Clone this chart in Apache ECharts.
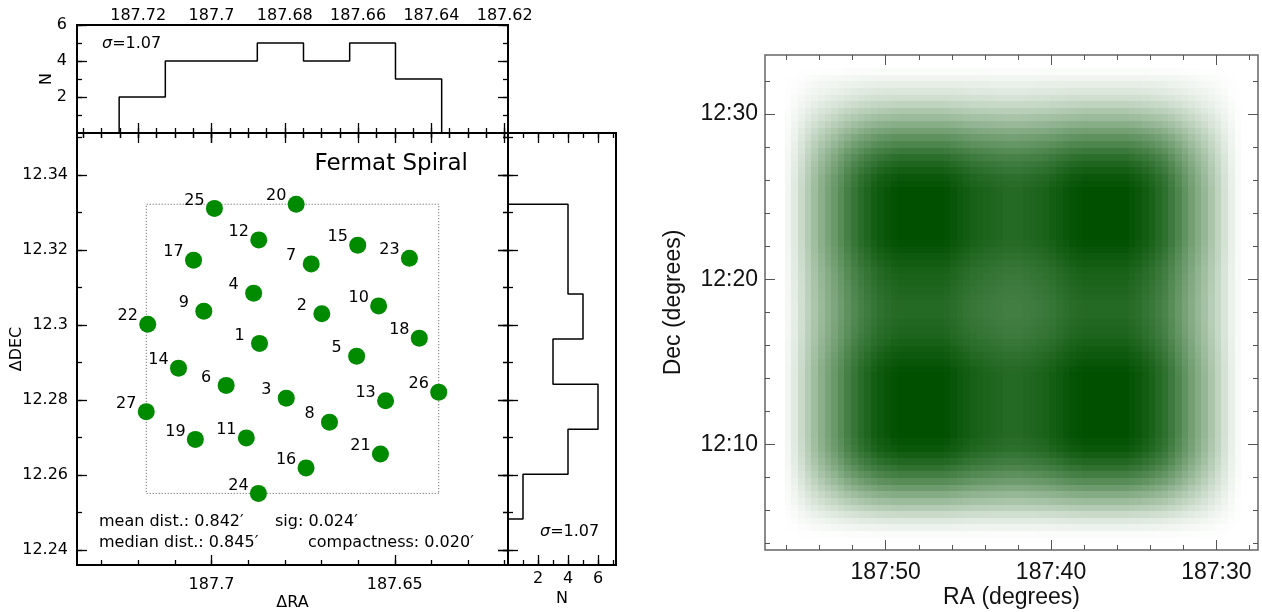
<!DOCTYPE html>
<html><head><meta charset="utf-8">
<script src="https://cdn.jsdelivr.net/npm/echarts@6/dist/echarts.min.js"></script>
<style>html,body{margin:0;padding:0;background:#fff}#c{width:1262px;height:612px}</style>
</head><body><div id="c"></div>
<script>
// ================= DATA =================
const pointIds  = [1,2,3,4,5,6,7,8,9,10,11,12,13,14,15,16,17,18,19,20,21,22,23,24,25,26,27];
const pointRA   = [187.6869,187.6699,187.6796,187.6885,187.6604,187.6960,187.6728,187.6678,187.7021,187.6544,
                   187.6905,187.6871,187.6525,187.7090,187.6601,187.6742,187.7049,187.6433,187.7044,187.6769,
                   187.6539,187.7174,187.6460,187.6872,187.6992,187.6380,187.7178];
const pointDec  = [12.2951,12.3030,12.2805,12.3085,12.2917,12.2839,12.3163,12.2741,12.3037,12.3051,
                   12.2699,12.3227,12.2798,12.2885,12.3213,12.2619,12.3173,12.2965,12.2695,12.3322,
                   12.2656,12.3002,12.3178,12.2551,12.3311,12.2821,12.2769];

const raHistEdges   = [187.7252,187.7126,187.7001,187.6875,187.6749,187.6623,187.6498,187.6372];
const raHistCounts  = [2,4,4,5,4,5,3];
const decHistEdges  = [12.3322,12.3202,12.3083,12.2963,12.2842,12.2722,12.2602,12.2483];
const decHistCounts = [4,4,5,3,6,4,1];

const raTopLabels   = [187.72,187.70,187.68,187.66,187.64,187.62];
const raMainLabels  = [187.70,187.65];
const decMainLabels = [12.24,12.26,12.28,12.30,12.32,12.34];
const nLabels       = [2,4,6];

const titleText  = 'Fermat Spiral';
const sigmaText  = '1.07';
const statsMean  = 'mean dist.: 0.842\u2032';
const statsSig   = 'sig: 0.024\u2032';
const statsMed   = 'median dist.: 0.845\u2032';
const statsComp  = 'compactness: 0.020\u2032';

// heat map (coverage) — RA / Dec profiles read across the image (0.4' cells)
const heatRALabels  = [187 + 50/60, 187 + 40/60, 187 + 30/60];
const heatDecLabels = [12 + 30/60, 12 + 20/60, 12 + 10/60];
const HEAT_RA_LEFT = 187.955, HEAT_DEC_TOP = 12.5595, HEAT_CELL = 0.4/60;
const heatRAProfile = [0,0,0,0.05,0.12,0.21,0.30,0.38,0.46,0.53,0.59,0.66,0.73,0.79,0.84,0.88,0.92,0.95,0.97,0.99,
  1,1,1,1,1,1,1,0.99,0.97,0.95,0.93,0.91,0.90,0.89,0.88,0.87,0.86,0.86,0.86,0.87,0.88,0.89,0.90,0.92,0.94,0.96,0.98,0.99,
  1,1,1,1,1,1,1,0.98,0.96,0.93,0.90,0.86,0.82,0.76,0.69,0.62,0.55,0.48,0.41,0.33,0.25,0.17,0.09,0.03,0,0,0];
const heatDecProfile = [0,0,0.02,0.06,0.10,0.14,0.19,0.25,0.32,0.39,0.47,0.55,0.63,0.70,0.77,0.83,0.88,0.92,0.96,0.98,
  1,1,1,1,1,1,1,1,0.99,0.97,0.95,0.93,0.91,0.90,0.89,0.88,0.87,0.86,0.86,0.86,0.87,0.88,0.89,0.91,0.93,0.95,0.97,0.99,
  1,1,1,1,1,1,1,1,1,1,0.98,0.96,0.92,0.87,0.81,0.74,0.66,0.57,0.48,0.39,0.30,0.21,0.13,0.07,0.02,0,0];

// ================= HELPERS =================
function steps(a, b, s) { const o = []; const n = Math.round((b - a) / s); for (let k = 0; k <= n; k++) o.push(+(a + k * s).toFixed(7)); return o; }
const fmtNum = v => String(parseFloat((+v).toFixed(3)));
const fmtSex = v => { const d = Math.floor(v + 1e-9); const m = Math.round((v - d) * 60); return d + ':' + String(m).padStart(2, '0'); };
const LF = 'DejaVu Sans', HF = 'Liberation Sans';

function axis(o) {
  const a = {
    type: 'value', gridIndex: o.grid, position: o.pos, min: o.min, max: o.max, inverse: !!o.inverse,
    axisLine: {show: false}, splitLine: {show: false},
    axisTick: {show: true, inside: true, length: o.len, customValues: o.ticks,
               lineStyle: {color: o.tc || '#000', width: o.tw || 1.3}},
    axisLabel: {show: false}
  };
  if (o.labels) a.axisLabel = {show: true, customValues: o.labels, margin: o.margin, formatter: o.fmt,
    fontFamily: o.font || LF, fontSize: o.fs || 16, color: o.lc || '#000', hideOverlap: false};
  if (o.name) { a.name = o.name; a.nameLocation = 'middle'; a.nameGap = o.nameGap; a.nameRotate = o.nameRotate || 0;
    a.nameMoveOverlap = false;
    a.nameTextStyle = {fontFamily: o.font || LF, fontSize: o.fs || 16, color: o.lc || '#000'}; }
  return a;
}

const RA_MIN = 187.6191, RA_MAX = 187.7367, DEC_MIN = 12.2360, DEC_MAX = 12.3512;
const raTopMinor = steps(187.62, 187.735, 0.005);
const raMainMinor = steps(187.62, 187.73, 0.01);
const decMinor = steps(12.24, 12.35, 0.01);
const nMinorTop = [1,2,3,4,5,6];
const nMinorRight = [1,2,3,4,5,6,7];
const heatRAMinor = steps(187 + 28/60, 187 + 56/60, 2/60);
const heatDecMinor = steps(12 + 4/60, 12 + 32/60, 2/60);
const HX = {min: 187.4580, max: 187.955}, HY = {min: 12.0603, max: 12.5595};

const xAxes = [
  axis({grid:0,pos:'top',min:RA_MIN,max:RA_MAX,inverse:true,len:10,ticks:raTopLabels,labels:raTopLabels,margin:1,fmt:fmtNum}),
  axis({grid:0,pos:'top',min:RA_MIN,max:RA_MAX,inverse:true,len:5,ticks:raTopMinor}),
  axis({grid:0,pos:'bottom',min:RA_MIN,max:RA_MAX,inverse:true,len:10,ticks:raTopLabels}),
  axis({grid:0,pos:'bottom',min:RA_MIN,max:RA_MAX,inverse:true,len:5,ticks:raTopMinor}),
  axis({grid:1,pos:'bottom',min:RA_MIN,max:RA_MAX,inverse:true,len:10,ticks:raMainLabels,labels:raMainLabels,margin:12,fmt:fmtNum,name:'\u0394RA',nameGap:30}),
  axis({grid:1,pos:'bottom',min:RA_MIN,max:RA_MAX,inverse:true,len:5,ticks:raMainMinor}),
  axis({grid:1,pos:'top',min:RA_MIN,max:RA_MAX,inverse:true,len:5,ticks:raTopMinor}),
  axis({grid:1,pos:'top',min:RA_MIN,max:RA_MAX,inverse:true,len:10,ticks:raMainLabels}),
  axis({grid:2,pos:'bottom',min:0,max:7.2,len:10,ticks:nLabels,labels:nLabels,margin:6,fmt:fmtNum,name:'N',nameGap:26}),
  axis({grid:2,pos:'bottom',min:0,max:7.2,len:5,ticks:nMinorRight}),
  axis({grid:2,pos:'top',min:0,max:7.2,len:10,ticks:nLabels}),
  axis({grid:2,pos:'top',min:0,max:7.2,len:5,ticks:nMinorRight}),
  axis({grid:3,pos:'bottom',min:HX.min,max:HX.max,inverse:true,len:10,ticks:heatRALabels,labels:heatRALabels,margin:11,fmt:fmtSex,font:HF,fs:23,lc:'#111',tc:'#555',tw:1,name:'RA (degrees)',nameGap:36}),
  axis({grid:3,pos:'bottom',min:HX.min,max:HX.max,inverse:true,len:5,ticks:heatRAMinor,tc:'#555',tw:1}),
  axis({grid:3,pos:'top',min:HX.min,max:HX.max,inverse:true,len:10,ticks:heatRALabels,tc:'#555',tw:1}),
  axis({grid:3,pos:'top',min:HX.min,max:HX.max,inverse:true,len:5,ticks:heatRAMinor,tc:'#555',tw:1})
];
const yAxes = [
  axis({grid:0,pos:'left',min:0,max:6,len:10,ticks:nLabels,labels:nLabels,margin:10,fmt:fmtNum,name:'N',nameGap:22,nameRotate:90}),
  axis({grid:0,pos:'left',min:0,max:6,len:5,ticks:nMinorTop}),
  axis({grid:0,pos:'right',min:0,max:6,len:10,ticks:nLabels}),
  axis({grid:0,pos:'right',min:0,max:6,len:5,ticks:nMinorTop}),
  axis({grid:1,pos:'left',min:DEC_MIN,max:DEC_MAX,len:10,ticks:decMainLabels,labels:decMainLabels,margin:9,fmt:fmtNum,name:'\u0394DEC',nameGap:52,nameRotate:90}),
  axis({grid:1,pos:'left',min:DEC_MIN,max:DEC_MAX,len:5,ticks:decMinor}),
  axis({grid:1,pos:'right',min:DEC_MIN,max:DEC_MAX,len:10,ticks:decMainLabels}),
  axis({grid:1,pos:'right',min:DEC_MIN,max:DEC_MAX,len:5,ticks:decMinor}),
  axis({grid:2,pos:'left',min:DEC_MIN,max:DEC_MAX,len:10,ticks:decMainLabels}),
  axis({grid:2,pos:'left',min:DEC_MIN,max:DEC_MAX,len:5,ticks:decMinor}),
  axis({grid:2,pos:'right',min:DEC_MIN,max:DEC_MAX,len:10,ticks:decMainLabels}),
  axis({grid:2,pos:'right',min:DEC_MIN,max:DEC_MAX,len:5,ticks:decMinor}),
  axis({grid:3,pos:'left',min:HY.min,max:HY.max,len:10,ticks:heatDecLabels,labels:heatDecLabels,margin:7,fmt:fmtSex,font:HF,fs:23,lc:'#111',tc:'#555',tw:1,name:'Dec (degrees)',nameGap:80,nameRotate:90}),
  axis({grid:3,pos:'left',min:HY.min,max:HY.max,len:5,ticks:heatDecMinor,tc:'#555',tw:1}),
  axis({grid:3,pos:'right',min:HY.min,max:HY.max,len:10,ticks:heatDecLabels,tc:'#555',tw:1}),
  axis({grid:3,pos:'right',min:HY.min,max:HY.max,len:5,ticks:heatDecMinor,tc:'#555',tw:1})
];

// histogram outlines built from edges + counts
const topHist = [[raHistEdges[0], 0]];
raHistCounts.forEach((c, k) => { topHist.push([raHistEdges[k], c]); topHist.push([raHistEdges[k + 1], c]); });
topHist.push([raHistEdges[raHistEdges.length - 1], 0]);
const rightHist = [[0, decHistEdges[0]]];
decHistCounts.forEach((c, k) => { rightHist.push([c, decHistEdges[k]]); rightHist.push([c, decHistEdges[k + 1]]); });
rightHist.push([0, decHistEdges[decHistEdges.length - 1]]);

// bounding box of pointings
const bx0 = Math.min(...pointRA), bx1 = Math.max(...pointRA), by0 = Math.min(...pointDec), by1 = Math.max(...pointDec);
const bbox = [[bx0, by0], [bx1, by0], [bx1, by1], [bx0, by1], [bx0, by0]];

const scatterData = pointRA.map((r, k) => [r, pointDec[k]]);

const heatCells = [];
for (let i = 0; i < heatRAProfile.length; i++) for (let j = 0; j < heatDecProfile.length; j++) {
  const v = heatRAProfile[i] * heatDecProfile[j];
  if (v > 0) heatCells.push([HEAT_RA_LEFT - (i + 0.5) * HEAT_CELL, HEAT_DEC_TOP - (j + 0.5) * HEAT_CELL, +v.toFixed(4)]);
}

const txt = (x, y, text, align, size, extra) => ({type: 'text', x: x, y: y, silent: true,
  style: Object.assign({text: text, fontFamily: LF, fontSize: size || 16, fill: '#000', textAlign: align || 'left', textVerticalAlign: 'middle'}, extra || {})});
const sigRich = {i: {fontStyle: 'italic', fontFamily: LF, fontSize: 16, fill: '#000'}};
const G = {show: true, borderColor: '#000', borderWidth: 2, backgroundColor: 'transparent', containLabel: false, outerBoundsMode: 'none'};

const option = {
  animation: false,
  backgroundColor: '#fff',
  grid: [
    Object.assign({left: 77, top: 25, width: 431, height: 108}, G),
    Object.assign({left: 77, top: 133, width: 431, height: 432}, G),
    Object.assign({left: 508, top: 133, width: 108, height: 432}, G),
    Object.assign({left: 765, top: 55, width: 493, height: 495}, G, {borderColor: '#666', borderWidth: 1.5})
  ],
  xAxis: xAxes,
  yAxis: yAxes,
  visualMap: {type: 'continuous', show: false, min: 0, max: 1, dimension: 2, seriesIndex: 4,
              inRange: {color: ['#ffffff', '#005000']}},
  series: [
    {type: 'line', xAxisIndex: 0, yAxisIndex: 0, data: topHist, showSymbol: false, symbol: 'none',
     lineStyle: {color: '#000', width: 1.5}, silent: true},
    {type: 'line', xAxisIndex: 4, yAxisIndex: 4, data: bbox, showSymbol: false, symbol: 'none', z: 1,
     lineStyle: {color: '#555', width: 1, type: [1, 2]}, silent: true},
    {type: 'scatter', xAxisIndex: 4, yAxisIndex: 4, data: scatterData, symbolSize: 17, z: 3,
     itemStyle: {color: '#008a00', opacity: 1},
     label: {show: true, position: 'inside', offset: [-20, -8], formatter: p => String(pointIds[p.dataIndex]),
             color: '#000', fontFamily: LF, fontSize: 16}},
    {type: 'line', xAxisIndex: 8, yAxisIndex: 8, data: rightHist, showSymbol: false, symbol: 'none',
     lineStyle: {color: '#000', width: 1.5}, silent: true},
    {type: 'custom', xAxisIndex: 12, yAxisIndex: 12, data: heatCells, clip: true, progressive: 0, silent: true,
     encode: {x: 0, y: 1},
     renderItem: function (params, api) {
       const x = api.value(0), y = api.value(1), h = HEAT_CELL / 2;
       const a = api.coord([x + h, y + h]), b = api.coord([x - h, y - h]);
       const x0 = Math.round(Math.min(a[0], b[0])), x1 = Math.round(Math.max(a[0], b[0]));
       const y0 = Math.round(Math.min(a[1], b[1])), y1 = Math.round(Math.max(a[1], b[1]));
       return {type: 'rect', shape: {x: x0, y: y0, width: x1 - x0, height: y1 - y0}, style: {fill: api.visual('color')}};
     }}
  ],
  graphic: [
    txt(468, 164, titleText, 'right', 23),
    txt(99, 522, statsMean, 'left', 16),
    txt(275, 522, statsSig, 'left', 16),
    txt(99, 543, statsMed, 'left', 16),
    txt(308, 543, statsComp, 'left', 16),
    txt(102, 44, '{i|\u03c3}=' + sigmaText, 'left', 16, {rich: sigRich}),
    txt(540, 532, '{i|\u03c3}=' + sigmaText, 'left', 16, {rich: sigRich})
  ]
};

const chart = echarts.init(document.getElementById('c'), null, {renderer: 'canvas'});
chart.setOption(option);
</script>
</body></html>
